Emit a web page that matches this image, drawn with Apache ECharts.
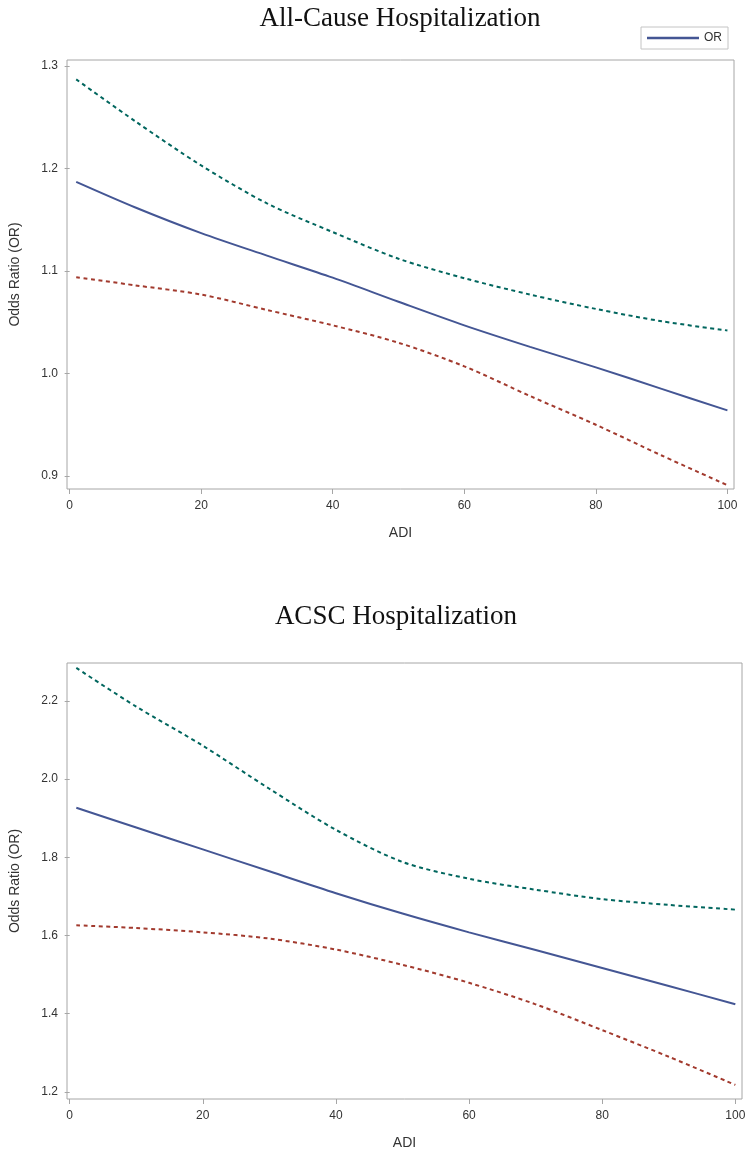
<!DOCTYPE html>
<html><head><meta charset="utf-8">
<script src="https://cdn.jsdelivr.net/npm/echarts@6/dist/echarts.min.js"></script>
<style>html,body{margin:0;padding:0;background:#fff}#c{width:750px;height:1151px}</style>
</head><body><div id="c"></div>
<script>
// ---- data ----
const adi = [1, 10, 20, 30, 40, 50, 60, 70, 80, 90, 100];
const xTicks = [0, 20, 40, 60, 80, 100];

const allCauseOR    = [1.187, 1.162, 1.137, 1.115, 1.0935, 1.070, 1.047, 1.026, 1.006, 0.985, 0.964];
const allCauseLower = [1.094, 1.086, 1.077, 1.062, 1.047, 1.030, 1.007, 0.978, 0.950, 0.920, 0.891];
const allCauseUpper = [1.287, 1.246, 1.203, 1.166, 1.138, 1.112, 1.093, 1.077, 1.063, 1.051, 1.042];
const allCauseTicks = [0.9, 1.0, 1.1, 1.2, 1.3];

const acscOR    = [1.9265, 1.876, 1.820, 1.764, 1.708, 1.656, 1.608, 1.563, 1.517, 1.471, 1.424];
const acscLower = [1.626, 1.619, 1.608, 1.592, 1.564, 1.525, 1.479, 1.424, 1.358, 1.290, 1.218];
const acscUpper = [2.284, 2.185, 2.085, 1.975, 1.870, 1.788, 1.745, 1.717, 1.693, 1.678, 1.666];
const acscTicks = [1.2, 1.4, 1.6, 1.8, 2.0, 2.2];

const titles = ['All-Cause Hospitalization', 'ACSC Hospitalization'];

// ---- style ----
const BLUE = '#445694', RED = '#A23A2E', GREEN = '#01665E';
const AXC = '#a6a6a6', TXT = '#333';
const SANS = '"Liberation Sans", Arial, sans-serif';
const SERIF = '"Liberation Serif", "Times New Roman", serif';

function pairs(xs, ys) { return xs.map((x, i) => [x, ys[i]]); }

function xAxis(gi) {
  return {
    type: 'value', gridIndex: gi, min: -0.4, max: 101,
    name: 'ADI', nameLocation: 'middle', nameGap: 37,
    nameTextStyle: { fontFamily: SANS, fontSize: 14, color: TXT },
    axisLine: { show: false },
    axisTick: { show: true, length: 5, lineStyle: { color: AXC, width: 1 }, customValues: xTicks },
    axisLabel: { fontFamily: SANS, fontSize: 12, color: TXT, margin: 11, customValues: xTicks, formatter: v => String(v) },
    splitLine: { show: false }
  };
}
function yAxis(gi, min, max, ticks) {
  return {
    type: 'value', gridIndex: gi, min: min, max: max,
    name: 'Odds Ratio (OR)', nameLocation: 'middle', nameGap: 45, nameRotate: 90,
    nameTextStyle: { fontFamily: SANS, fontSize: 14, color: TXT },
    axisLine: { show: false },
    axisTick: { show: true, length: 5, lineStyle: { color: AXC, width: 1 }, customValues: ticks },
    axisLabel: { fontFamily: SANS, fontSize: 12, color: TXT, margin: 9, customValues: ticks, formatter: v => v.toFixed(1) },
    splitLine: { show: false }
  };
}
function line(name, gi, ys, color, dashed) {
  return {
    name: name, type: 'line', xAxisIndex: gi, yAxisIndex: gi,
    data: pairs(adi, ys), smooth: 0.3, symbol: 'none', showSymbol: false,
    lineStyle: { color: color, width: 2, type: dashed ? [4, 3.5] : 'solid' },
    itemStyle: { color: color }, silent: true, z: dashed ? 2 : 3
  };
}

const chart = echarts.init(document.getElementById('c'), null, { renderer: 'canvas' });
chart.setOption({
  animation: false,
  backgroundColor: '#fff',
  title: [
    { text: titles[0], left: 395, top: 0, textAlign: 'center',
      textStyle: { fontFamily: SERIF, fontSize: 27, fontWeight: 'normal', color: '#111' } },
    { text: titles[1], left: 391, top: 598, textAlign: 'center',
      textStyle: { fontFamily: SERIF, fontSize: 27, fontWeight: 'normal', color: '#111' } }
  ],
  legend: {
    data: [{ name: 'OR', icon: 'rect', itemStyle: { color: BLUE } }],
    left: 641, top: 27, orient: 'horizontal',
    itemWidth: 52, itemHeight: 2.5, itemGap: 6,
    padding: [5, 6, 5, 6], borderColor: '#c4c4c4', borderWidth: 1,
    textStyle: { fontFamily: SANS, fontSize: 12, color: TXT },
    selectedMode: false
  },
  grid: [
    { left: 66, top: 60, width: 668, height: 429, show: true, borderColor: AXC, borderWidth: 1, backgroundColor: 'transparent' },
    { left: 67, top: 663, width: 675, height: 439, show: true, borderColor: AXC, borderWidth: 1, backgroundColor: 'transparent' }
  ],
  xAxis: [xAxis(0), xAxis(1)],
  yAxis: [yAxis(0, 0.8873, 1.3059, allCauseTicks), yAxis(1, 1.182, 2.2965, acscTicks)],
  series: [
    line('Lower', 0, allCauseLower, RED, true),
    line('Upper', 0, allCauseUpper, GREEN, true),
    line('OR', 0, allCauseOR, BLUE, false),
    line('Lower2', 1, acscLower, RED, true),
    line('Upper2', 1, acscUpper, GREEN, true),
    line('OR2', 1, acscOR, BLUE, false)
  ]
});
</script>
</body></html>
